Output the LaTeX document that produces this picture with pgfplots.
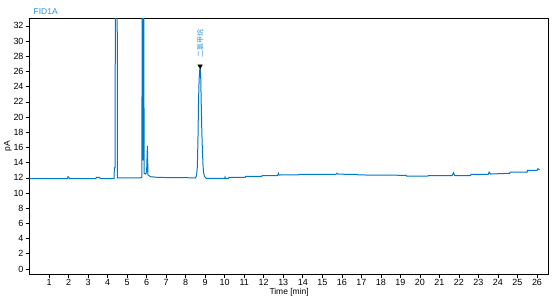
\documentclass[border=0pt]{standalone}
\usepackage{fontspec}
\setmainfont{Liberation Sans}
\newfontfamily\cjk{Noto Sans CJK SC}
\usepackage{pgfplots}
\pgfplotsset{compat=1.18}
\definecolor{trace}{RGB}{0,120,200}
\definecolor{titleblue}{RGB}{40,150,220}
\begin{document}
\begin{tikzpicture}
\path[use as bounding box] (-29.5bp,-26bp) rectangle (524.5bp,274bp);
\begin{axis}[
  scale only axis,
  width=519.2bp, height=255.7bp,
  xmin=0, xmax=26.6, ymin=-0.66, ymax=33,
  xtick={1,2,...,26}, ytick={0,2,...,32},
  tick align=outside, tick pos=left,
  major tick length=3.5bp,
  every tick/.style={black, line width=0.6pt},
  axis line style={black, line width=0.8pt},
  tick label style={font=\fontsize{9}{10}\selectfont},
  /pgf/number format/assume math mode=true,
  yticklabel style={xshift=1bp},
  xticklabel style={yshift=1.5bp},
  xlabel={Time [min]}, ylabel={pA},
  label style={font=\fontsize{8.5}{9}\selectfont},
  xlabel style={yshift=4bp},
  ylabel style={yshift=-5bp},
  clip mode=individual,
]
\addplot[trace, line width=1bp] coordinates {
(0.00,11.9) (1.95,11.9) (1.97,12.15) (2.02,12.05) (2.05,11.9)
(3.40,11.9) (3.42,12.05) (3.60,12.05) (3.62,11.9) (4.33,11.9)
(4.35,13.3) (4.39,13.3) (4.41,100) (4.48,100) (4.50,12.0)
(5.70,12.0) (5.76,12.1) (5.79,100) (5.81,14.3) (5.83,100) (5.87,12.6)
(5.95,12.5) (6.00,12.8) (6.04,16.2) (6.07,12.4) (6.12,12.3)
(6.20,12.15) (6.60,12.05) (8.50,12.0)
(8.56,12.3) (8.60,13.5) (8.63,17) (8.66,22) (8.69,25) (8.72,26.2)
(8.75,26.3) (8.77,25.5) (8.80,21.5) (8.83,18) (8.86,15.5) (8.89,13.6)
(8.92,12.7) (8.96,12.2) (9.05,11.93)
(10.00,11.93) (10.02,12.1) (10.04,11.93) (10.20,11.93) (10.22,12.06)
(11.05,12.06) (11.07,12.2) (11.90,12.2) (11.92,12.28) (12.70,12.28)
(12.72,12.37) (12.75,12.6) (12.78,12.37) (13.80,12.40) (13.82,12.46)
(15.70,12.46) (15.75,12.6) (15.80,12.48) (16.80,12.45) (16.82,12.38)
(19.30,12.33) (19.32,12.22) (20.40,12.22) (20.42,12.28) (21.65,12.28)
(21.72,12.67) (21.78,12.3) (22.60,12.3) (22.62,12.46) (23.50,12.46)
(23.55,12.75) (23.62,12.5) (24.60,12.6) (24.62,12.76) (25.50,12.76)
(25.52,12.98) (26.00,12.98) (26.05,13.2) (26.13,13.07)
};
\addplot[only marks, mark=triangle*, mark size=2.6bp, black,
  mark options={rotate=180}] coordinates {(8.74,26.7)};
\node[rotate=90, anchor=west, font=\cjk\fontsize{7}{7}\selectfont, text=titleblue, inner sep=0pt]
  at (axis cs:8.74,27.8) {二氯甲烷};
\node[anchor=south west, font=\fontsize{8.5}{9}\selectfont, text=titleblue, inner sep=0pt]
  at (rel axis cs:0,1) [xshift=4bp, yshift=4bp] {FID1A};
\end{axis}
\end{tikzpicture}
\end{document}
